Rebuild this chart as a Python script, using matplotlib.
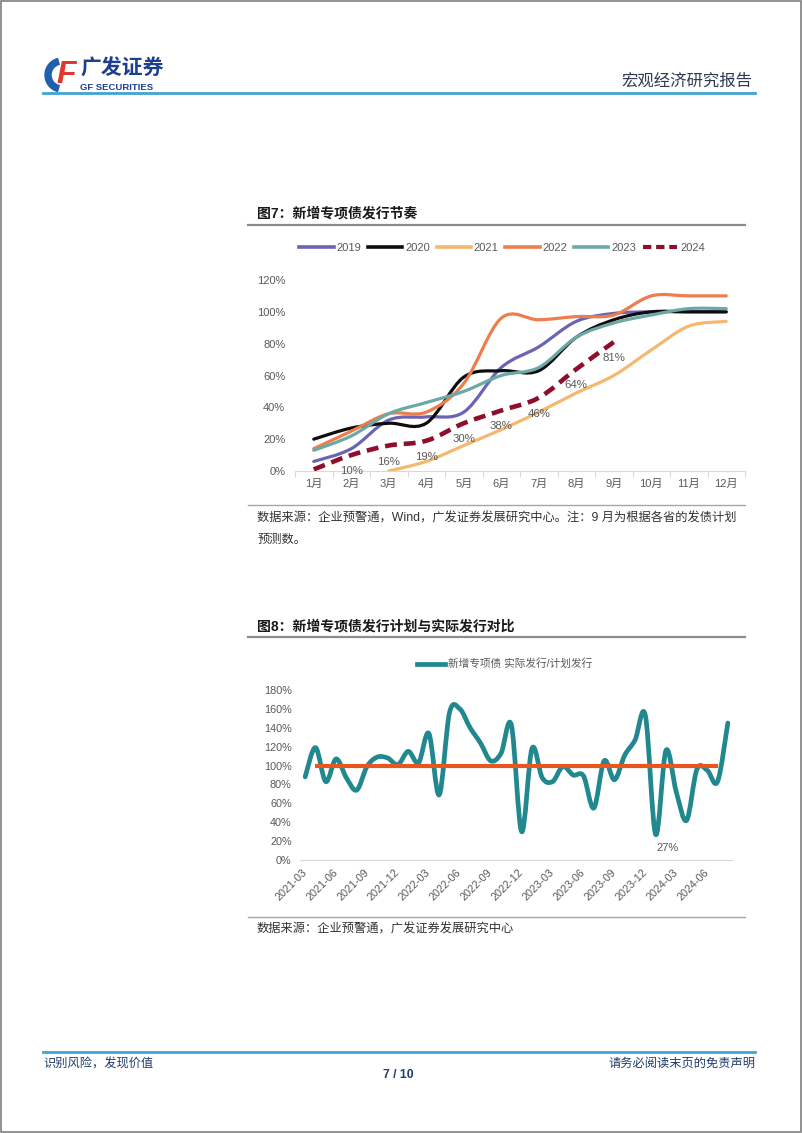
import numpy as np
import matplotlib
matplotlib.use('Agg')
import matplotlib.pyplot as plt
from matplotlib.path import Path
from matplotlib.patches import PathPatch, Wedge, Rectangle
from matplotlib.lines import Line2D

plt.rcParams['font.family'] = ['Liberation Sans', 'Noto Sans CJK SC']

# ---- 图7 数据 (%)
months = ['1月', '2月', '3月', '4月', '5月', '6月', '7月', '8月', '9月', '10月', '11月', '12月']
nan = np.nan
y2019 = [6, 14, 32, 34, 37, 65, 78, 94, 99, 100, 100, 100]
y2020 = [20, 27, 30, 30, 59, 63, 63, 84, 95, 100, 100, 100]
y2021 = [nan, nan, 0, 6, 16, 26, 37, 49, 60, 76, 91, 94]
y2022 = [14, 25, 36, 37, 55, 96, 95, 97, 98, 110, 110, 110]
y2023 = [13, 22, 36, 43, 50, 60, 65, 84, 93, 98, 102, 102]
y2024 = [1, 10, 16, 19, 30, 38, 46, 64, 81, nan, nan, nan]
labels2024 = ['', '10%', '16%', '19%', '30%', '38%', '46%', '64%', '81%']

# ---- 图8 数据 (%), 2021-03 ~ 2024-08 每月
ratio = [88, 119, 83, 107, 87, 74, 99, 109, 108, 101, 115, 103, 134, 69,
         156, 160, 140, 124, 105, 113, 143, 30, 118, 87, 83, 99, 90, 89,
         55, 105, 85, 111, 127, 153, 27, 116, 72, 42, 96, 95, 83, 145]
plan = [nan] + [100] * 40 + [nan]
tick_labels = ['2021-03', '2021-06', '2021-09', '2021-12', '2022-03', '2022-06', '2022-09',
               '2022-12', '2023-03', '2023-06', '2023-09', '2023-12', '2024-03', '2024-06']

GRAY_TXT = '#595959'
W, H = 802, 1133


def smooth_path(xs, ys):
    pts = [(x, y) for x, y in zip(xs, ys) if not np.isnan(y)]
    verts = [pts[0]]
    codes = [Path.MOVETO]
    n = len(pts)
    for i in range(n - 1):
        p0 = pts[i - 1] if i > 0 else pts[i]
        p1, p2 = pts[i], pts[i + 1]
        p3 = pts[i + 2] if i + 2 < n else pts[i + 1]
        c1 = (p1[0] + (p2[0] - p0[0]) / 6, p1[1] + (p2[1] - p0[1]) / 6)
        c2 = (p2[0] - (p3[0] - p1[0]) / 6, p2[1] - (p3[1] - p1[1]) / 6)
        verts += [c1, c2, p2]
        codes += [Path.CURVE4] * 3
    return Path(verts, codes)


def add_smooth(ax, xs, ys, **kw):
    patch = PathPatch(smooth_path(xs, ys), fill=False, **kw)
    ax.add_patch(patch)
    return patch


fig = plt.figure(figsize=(W / 100, H / 100), dpi=100)

# ---- 页面装饰 (像素坐标)
deco = fig.add_axes([0, 0, 1, 1])
deco.set_xlim(0, W)
deco.set_ylim(H, 0)
deco.axis('off')
deco.add_patch(Rectangle((0.5, 0.5), W - 1.5, H - 1.5, fill=False, ec='#7f7f7f', lw=1.2))

deco.add_patch(Wedge((62, 75), 17, 105, 255, width=6, color='#1f5fae'))
deco.text(66, 75, 'F', fontsize=23, fontweight='bold', style='italic', color='#e2362b',
          ha='center', va='center')
deco.text(80, 69, '广发证券', fontsize=15, fontweight='bold', color='#1d3f8f', ha='left', va='center')
deco.text(80, 87, 'GF SECURITIES', fontsize=6.8, fontweight='bold', color='#1d3f8f',
          ha='left', va='center')
deco.text(752, 81, '宏观经济研究报告', fontsize=11.8, color='#2f3b52', ha='right', va='center')
deco.plot([43, 755], [93, 93], color='#3fa4d2', lw=2)

deco.plot([43, 755], [1052, 1052], color='#3fa4d2', lw=2)
deco.text(43, 1064, '识别风险，发现价值', fontsize=8.8, color='#1f3d6b', ha='left', va='center')
deco.text(755, 1064, '请务必阅读末页的免责声明', fontsize=8.8, color='#1f3d6b', ha='right', va='center')
deco.text(398, 1075, '7 / 10', fontsize=8.8, fontweight='bold', color='#1f3d6b', ha='center', va='center')

# 标题与来源
deco.text(257, 213, '图7：新增专项债发行节奏', fontsize=10, fontweight='bold', color='#1a1a1a',
          ha='left', va='center')
deco.plot([248, 745], [225, 225], color='#8c8c8c', lw=1.6)
deco.plot([248, 745], [505, 505], color='#a6a6a6', lw=1)
deco.text(257, 518, '数据来源：企业预警通，Wind，广发证券发展研究中心。注：9 月为根据各省的发债计划',
          fontsize=8.8, color='#333333', ha='left', va='center')
deco.text(257, 540, '预测数。', fontsize=8.8, color='#333333', ha='left', va='center')

deco.text(257, 626, '图8：新增专项债发行计划与实际发行对比', fontsize=10, fontweight='bold',
          color='#1a1a1a', ha='left', va='center')
deco.plot([248, 745], [637, 637], color='#8c8c8c', lw=1.6)
deco.plot([248, 745], [917, 917], color='#a6a6a6', lw=1)
deco.text(257, 929, '数据来源：企业预警通，广发证券发展研究中心', fontsize=8.8, color='#333333',
          ha='left', va='center')

# ---- 图7
ax1 = fig.add_axes([295 / W, 1 - 471 / H, 450 / W, 191 / H])
x1 = np.arange(len(months))
series = [('2019', y2019, '#6b64b4'), ('2020', y2020, '#0d0d0d'), ('2021', y2021, '#f4b870'),
          ('2022', y2022, '#ee7d4c'), ('2023', y2023, '#6aa9a7')]
handles = []
for name, ys, col in series:
    add_smooth(ax1, x1, ys, edgecolor=col, lw=2.3, capstyle='round', joinstyle='round', zorder=3)
    handles.append(Line2D([], [], color=col, lw=2.6))
add_smooth(ax1, x1, y2024, edgecolor='#8e0e2c', lw=3.3, linestyle=(0, (2.6, 1.5)),
           capstyle='butt', zorder=4)
handles.append(Line2D([], [], color='#8e0e2c', lw=3.0, dashes=(2.0, 1.15)))
for i, lab in enumerate(labels2024):
    if lab:
        ax1.annotate(lab, (x1[i], y2024[i]), xytext=(0, -11.5), textcoords='offset points',
                     ha='center', va='center', fontsize=8.2, color=GRAY_TXT, zorder=5)

ax1.set_xlim(-0.5, 11.5)
ax1.set_ylim(0, 120)
ax1.set_yticks(range(0, 121, 20))
ax1.set_yticklabels([f'{v}%' for v in range(0, 121, 20)])
ax1.set_xticks(x1)
ax1.set_xticklabels(months)
ax1.set_xticks(np.arange(-0.5, 12, 1), minor=True)
ax1.tick_params(axis='y', length=0, pad=7, labelsize=8, labelcolor=GRAY_TXT)
ax1.tick_params(axis='x', which='major', length=0, pad=6, labelsize=8, labelcolor=GRAY_TXT)
ax1.tick_params(axis='x', which='minor', length=4, color='#d9d9d9', width=0.8)
for s in ['top', 'right', 'left']:
    ax1.spines[s].set_visible(False)
ax1.spines['bottom'].set_color('#d9d9d9')
ax1.patch.set_alpha(0)
leg1 = ax1.legend(handles, [s[0] for s in series] + ['2024'], ncol=6, loc='center',
                  bbox_to_anchor=(502 / W, 1 - 248 / H), bbox_transform=fig.transFigure,
                  frameon=False, fontsize=8, handlelength=3.1, handletextpad=0.25,
                  columnspacing=0.6, labelcolor=GRAY_TXT)

# ---- 图8
ax2 = fig.add_axes([300 / W, 1 - 860 / H, 433 / W, 170 / H])
x2 = np.arange(len(ratio))
add_smooth(ax2, x2, ratio, edgecolor='#21888f', lw=3.4, capstyle='round', joinstyle='round', zorder=3)
ax2.plot(x2, plan, color='#e8561f', lw=3.0, solid_capstyle='butt', zorder=4)
imin = int(np.argmin(ratio))
ax2.annotate(f'{ratio[imin]}%', (x2[imin], ratio[imin]), xytext=(8.5, -9.5), textcoords='offset points',
             ha='center', va='center', fontsize=8, color=GRAY_TXT, zorder=5)
ax2.set_xlim(-0.5, len(ratio) - 0.5)
ax2.set_ylim(0, 180)
ax2.set_yticks(range(0, 181, 20))
ax2.set_yticklabels([f'{v}%' for v in range(0, 181, 20)])
ax2.set_xticks(np.arange(0, len(ratio), 3))
ax2.set_xticklabels(tick_labels, rotation=45, ha='right', va='center', rotation_mode='anchor')
ax2.tick_params(axis='y', length=0, pad=6, labelsize=7.8, labelcolor=GRAY_TXT)
ax2.tick_params(axis='x', length=0, pad=8, labelsize=7.8, labelcolor=GRAY_TXT)
for s in ['top', 'right', 'left']:
    ax2.spines[s].set_visible(False)
ax2.spines['bottom'].set_color('#d9d9d9')
ax2.patch.set_alpha(0)
ax2.legend([Line2D([], [], color='#21888f', lw=3.4)], ['新增专项债 实际发行/计划发行'],
           loc='center', bbox_to_anchor=(505 / W, 1 - 664 / H), bbox_transform=fig.transFigure,
           frameon=False, fontsize=7.7, handlelength=2.6, handletextpad=0.3, labelcolor=GRAY_TXT)

fig.savefig('out.png', dpi=100)
